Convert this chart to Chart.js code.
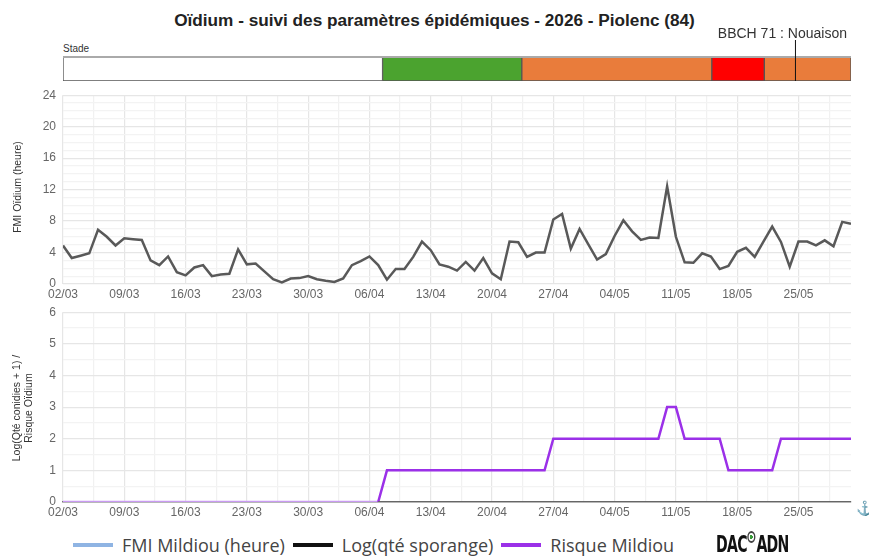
<!DOCTYPE html>
<html>
<head>
<meta charset="utf-8">
<script src="https://cdn.jsdelivr.net/npm/chart.js@4"></script>
<style>
  body { margin: 0; background: #fff; font-family: "Liberation Sans", Arial, sans-serif; }
  #wrap { position: relative; width: 869px; height: 558px; overflow: hidden; }
  canvas { position: absolute; left: 0; }
  .title { position: absolute; top: 10px; left: 0; width: 869px; text-align: center; font-weight: bold; font-size: 17.2px; color: #222; }
  .stade { position: absolute; left: 63px; top: 43px; font-size: 10px; color: #333; }
  .ytitle { position: absolute; transform: rotate(-90deg); transform-origin: center; text-align: center; font-size: 10.5px; color: #333; white-space: nowrap; }
  .legend { position: absolute; top: 533px; left: 73px; font-family: "Open Sans", sans-serif; font-size: 18px; color: #444; display: flex; align-items: center; }
  .legend span.l { display: inline-block; width: 40px; height: 4px; margin-right: 9px; }
  .legend span.t { margin-right: 8px; }
  .logo { position: absolute; left: 716px; top: 531px; font-family: "DejaVu Sans Condensed", sans-serif; font-weight: bold; font-size: 23px; color: #111; letter-spacing: -1px; transform: scaleX(0.68); transform-origin: left center; white-space: nowrap; }
  .logo i { display: inline-block; width: 8px; height: 8px; border: 2px solid #444; border-radius: 50%; vertical-align: 9px; margin: 0 1px; background: radial-gradient(#3a9a3a 35%, transparent 40%); }
  .anchor { position: absolute; left: 856px; top: 500px; color: #3a8ad8; font-size: 14px; }
</style>
</head>
<body>
<div id="wrap">
  <div class="title">Oïdium - suivi des paramètres épidémiques - 2026 - Piolenc (84)</div>
  <div class="stade">Stade</div>
  <canvas id="stage" width="869" height="90" style="top:0"></canvas>
  <canvas id="fmi" width="869" height="223" style="top:81px"></canvas>
  <canvas id="risk" width="869" height="224" style="top:298px"></canvas>
  <div class="ytitle" style="left:-38px; top:181px; width:110px;">FMI Oïdium (heure)</div>
  <div class="ytitle" style="left:-53px; top:396px; width:150px; line-height:12px;">Log(Qté conidies + 1) /<br>Risque Oïdium</div>
  <div class="anchor">⚓</div>
  <div class="legend">
    <span class="l" style="background:#8fb4e3"></span><span class="t">FMI Mildiou (heure)</span>
    <span class="l" style="background:#111"></span><span class="t">Log(qté sporange)</span>
    <span class="l" style="background:#9b30e8"></span><span class="t">Risque Mildiou</span>
  </div>
  <div class="logo">DAC<i></i>ADN</div>
</div>
<script>
// weekly tick labels (day 0 = 02/03, one point per day until 31/05)
const tickLabels = ['02/03','09/03','16/03','23/03','30/03','06/04','13/04','20/04','27/04','04/05','11/05','18/05','25/05'];

// FMI Oïdium (heure), daily
const fmiOidium = [
  4.9, 3.3, 3.6, 3.9, 6.9, 6.0, 4.9, 5.8, 5.7, 5.6,
  3.0, 2.4, 3.5, 1.5, 1.1, 2.1, 2.4, 1.0, 1.2, 1.3,
  4.4, 2.5, 2.6, 1.6, 0.6, 0.2, 0.7, 0.75, 1.0, 0.6,
  0.4, 0.25, 0.7, 2.4, 2.9, 3.5, 2.4, 0.55, 1.9, 1.9,
  3.45, 5.4, 4.3, 2.5, 2.2, 1.7, 2.8, 1.7, 3.3, 1.35,
  0.6, 5.4, 5.3, 3.45, 4.0, 4.0, 8.2, 8.9, 4.5, 7.0,
  5.05, 3.1, 3.8, 6.1, 8.1, 6.7, 5.6, 5.9, 5.85, 12.4,
  6.0, 2.75, 2.7, 3.9, 3.5, 1.9, 2.3, 4.1, 4.6, 3.45,
  5.4, 7.3, 5.35, 2.2, 5.4, 5.4, 4.9, 5.55, 4.8, 7.9,
  7.65
];

// Risque Oïdium, daily
const risque = [
  0, 0, 0, 0, 0, 0, 0, 0, 0, 0,
  0, 0, 0, 0, 0, 0, 0, 0, 0, 0,
  0, 0, 0, 0, 0, 0, 0, 0, 0, 0,
  0, 0, 0, 0, 0, 0, 0, 1, 1, 1,
  1, 1, 1, 1, 1, 1, 1, 1, 1, 1,
  1, 1, 1, 1, 1, 1, 2, 2, 2, 2,
  2, 2, 2, 2, 2, 2, 2, 2, 2, 3,
  3, 2, 2, 2, 2, 2, 1, 1, 1, 1,
  1, 1, 2, 2, 2, 2, 2, 2, 2, 2,
  2
];

// Log(Qté conidies + 1), daily (no value before 07/04)
const conidies = [
  null, null, null, null, null, null, null, null, null, null,
  null, null, null, null, null, null, null, null, null, null,
  null, null, null, null, null, null, null, null, null, null,
  null, null, null, null, null, null, 0, 0, 0, 0,
  0, 0, 0, 0, 0, 0, 0, 0, 0, 0,
  0, 0, 0, 0, 0, 0, 0, 0, 0, 0,
  0, 0, 0, 0, 0, 0, 0, 0, 0, 0,
  0, 0, 0, 0, 0, 0, 0, 0, 0, 0,
  0, 0, 0, 0, 0, 0, 0, 0, 0, 0,
  0
];

// phenological stages, in days since 02/03
const stageStart = [0, 36.5, 52.4, 74.1, 80.1];
const stageEnd = [36.5, 52.4, 74.1, 80.1, 90];
const stageColors = ['#ffffff', '#4ba32f', '#e97c3b', '#ff0000', '#e97c3b'];
const bbchDay = 83.6;
const bbchLabel = 'BBCH 71 : Nouaison';

const lastDay = fmiOidium.length - 1;
const xy = arr => arr.map((v, i) => ({ x: i, y: v }));

const gridDays = [];
for (let d = 0; d < lastDay; d += 3.5) gridDays.push(d);

function xScale() {
  return {
    type: 'linear', min: 0, max: lastDay,
    afterBuildTicks: s => { s.ticks = gridDays.map(v => ({ value: v })); },
    afterFit: s => { s.height = 20; },
    grid: { drawTicks: false, color: c => (c.tick && c.tick.value % 7 === 0) ? '#e6e6e6' : '#f1f1f1', lineWidth: 1.2 },
    border: { display: false },
    ticks: {
      autoSkip: false, maxRotation: 0, padding: 3, color: '#666',
      font: { family: 'Liberation Sans', size: 12 },
      callback: v => v % 7 === 0 ? tickLabels[v / 7] : ''
    }
  };
}

function yScale(max, step, every) {
  return {
    min: 0, max: max,
    afterFit: s => { s.width = 63; },
    grid: { drawTicks: false, color: c => (c.tick && c.tick.value % every === 0) ? '#e6e6e6' : '#f3f3f3', lineWidth: 1.2 },
    border: { display: false },
    ticks: {
      stepSize: step, autoSkip: false, padding: 7, color: '#666',
      font: { family: 'Liberation Sans', size: 12 },
      callback: v => v % every === 0 ? v : ''
    }
  };
}

// stage bar
new Chart('stage', {
  type: 'bar',
  data: {
    labels: ['Stade'],
    datasets: stageStart.map((s, i) => ({
      data: [[s, stageEnd[i]]],
      backgroundColor: stageColors[i],
      borderColor: '#555',
      borderWidth: 1,
      borderSkipped: false,
      barPercentage: 1, categoryPercentage: 1,
      grouped: false
    }))
  },
  options: {
    indexAxis: 'y', responsive: false, animation: false,
    layout: { padding: { left: 63, right: 18, top: 57, bottom: 9 } },
    plugins: { legend: { display: false }, tooltip: { enabled: false } },
    scales: {
      x: { display: false, min: 0, max: lastDay },
      y: { display: false }
    }
  },
  plugins: [{
    id: 'bbch',
    afterDraw(chart) {
      const { ctx, chartArea, scales } = chart;
      const x = scales.x.getPixelForValue(bbchDay);
      ctx.save();
      ctx.strokeStyle = '#aaa';
      ctx.lineWidth = 2;
      ctx.beginPath();
      ctx.moveTo(chartArea.left, chartArea.top);
      ctx.lineTo(chartArea.right, chartArea.top);
      ctx.stroke();
      ctx.strokeStyle = '#111';
      ctx.lineWidth = 1;
      ctx.beginPath();
      ctx.moveTo(x + 0.5, 40);
      ctx.lineTo(x + 0.5, chartArea.bottom);
      ctx.stroke();
      ctx.font = '14px "Liberation Sans"';
      ctx.fillStyle = '#333';
      ctx.textAlign = 'right';
      ctx.fillText(bbchLabel, chartArea.right - 4, 38);
      ctx.restore();
    }
  }]
});

// FMI Oïdium
new Chart('fmi', {
  type: 'line',
  data: {
    datasets: [{
      label: 'FMI Oïdium (heure)',
      data: xy(fmiOidium),
      borderColor: '#595959', borderWidth: 2.5,
      pointRadius: 0, tension: 0, fill: false
    }]
  },
  options: {
    responsive: false, animation: false,
    layout: { padding: { top: 7, right: 18, left: 0, bottom: 0 } },
    plugins: { legend: { display: false }, tooltip: { enabled: false } },
    scales: { x: xScale(), y: yScale(24, 1, 4) }
  }
});

// Risque / conidies
new Chart('risk', {
  type: 'line',
  data: {
    datasets: [{
      label: 'Log(Qté conidies + 1)',
      data: xy(conidies),
      borderColor: '#666', borderWidth: 2,
      pointRadius: 0, tension: 0, fill: false
    }, {
      label: 'Risque Oïdium',
      data: xy(risque),
      borderColor: '#9b30e8', borderWidth: 2.5,
      segment: { borderColor: c => (c.p0.parsed.y === 0 && c.p1.parsed.y === 0) ? '#c99af2' : undefined },
      pointRadius: 0, tension: 0, fill: false
    }]
  },
  options: {
    responsive: false, animation: false,
    layout: { padding: { top: 7, right: 18, left: 0, bottom: 0 } },
    plugins: { legend: { display: false }, tooltip: { enabled: false } },
    scales: {
      x: Object.assign(xScale(), { border: { display: true, color: '#777', width: 1.5 } }),
      y: yScale(6, 0.5, 1)
    }
  }
});
</script>
</body>
</html>
